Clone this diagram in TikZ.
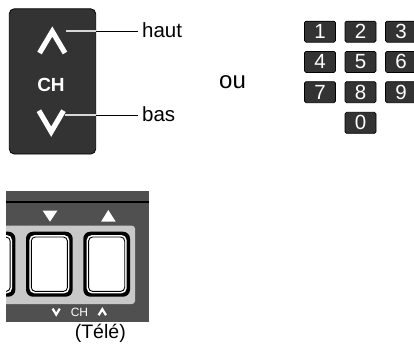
\documentclass[tikz,border=0pt]{standalone}
\usepackage{fontspec}
\setmainfont{Liberation Sans}
\definecolor{paneldark}{HTML}{333333}
\definecolor{tvgray}{HTML}{505050}
\definecolor{stripgray}{HTML}{C8C8C8}
\definecolor{leadlight}{HTML}{D8D8D8}
\begin{document}
\begin{tikzpicture}[x=1pt,y=-1pt,
  lbl/.style={font=\fontsize{20.5}{24}\selectfont, inner sep=0pt, anchor=base west},
  numkey/.style={draw=black, fill=paneldark, rounded corners=1.5pt, minimum width=31pt,
    minimum height=21pt, inner sep=0pt, text=white, font=\fontsize{20.5}{24}\selectfont, line width=0.7pt},
  chev/.style={white, line width=5.2pt, miter limit=10},
  smallchev/.style={white, line width=2.2pt, miter limit=10},
]
\useasboundingbox (0,0) rectangle (414,346);

% remote CH rocker
\node[draw=black, line width=0.8pt, fill=paneldark, rounded corners=5pt,
  minimum width=86.4pt, minimum height=145.3pt, inner sep=0pt] (remote) at (52.5,81.4) {};
\draw[chev] (39.5,53) -- (52.3,31.5) -- (65,53);
\draw[chev] (38.9,110.7) -- (51.2,131.7) -- (63.5,110.7);
\node[font=\bfseries\fontsize{19}{22}\selectfont, text=white, inner sep=0pt] (ch) at (51,84.5) {CH};

% labels and leaders
\node[lbl] (haut) at (142,37.7) {haut};
\node[lbl] (bas) at (142,121.7) {bas};
\coordinate (hs) at (66,31);
\coordinate (bs) at (65,115);
\draw[leadlight, line width=1.4pt] (hs) -- (hs -| remote.east);
\draw[black, line width=1pt] (hs -| remote.east) -- ([xshift=-4pt]hs -| haut.west);
\draw[leadlight, line width=1.4pt] (bs) -- (bs -| remote.east);
\draw[black, line width=1pt] (bs -| remote.east) -- ([xshift=-4pt]bs -| bas.west);

\node[font=\fontsize{24}{28}\selectfont, inner sep=0pt, anchor=base west] (ou) at (219,88) {ou};

% keypad
\node[numkey] (k1) at (320,31.7) {1};
\node[numkey] (k2) at (360.5,31.7) {2};
\node[numkey] (k3) at (401,31.7) {3};
\node[numkey] (k4) at (320,61.9) {4};
\node[numkey] (k5) at (360.5,61.9) {5};
\node[numkey] (k6) at (401,61.9) {6};
\node[numkey] (k7) at (320,92.2) {7};
\node[numkey] (k8) at (360.5,92.2) {8};
\node[numkey] (k9) at (401,92.2) {9};
\node[numkey] (k0) at (360.5,122.8) {0};

% TV panel
\fill[tvgray] (6,191) rectangle (149,322);
\begin{scope}
\clip (6,191) rectangle (149,322);
\draw[black, line width=1.2pt] (6,202) -- (149,202);
\fill[stripgray, rounded corners=3pt] (-10,225.7) rectangle (135,304);
\foreach \bx in {-31.3,26,83.3}{
  \fill[black, rounded corners=7pt] (\bx,231.7) rectangle ++(46.7,65);
  \fill[white, rounded corners=5pt] (\bx+3.4,235.1) rectangle ++(39.9,58.2);
  \draw[black, line width=0.9pt, fill=white, rounded corners=4pt] (\bx+5.3,237) rectangle ++(36.1,54.4);
}
\fill[white] (42.7,210.7) -- (57.3,210.7) -- (50,221.7) -- cycle;
\fill[white] (101,221.7) -- (115.7,221.7) -- (108.3,210) -- cycle;
\draw[smallchev] (52.6,308.6) -- (56.2,314.6) -- (59.8,308.6);
\draw[smallchev] (98.6,315.2) -- (102.3,309.2) -- (106,315.2);
\node[text=white, font=\fontsize{12}{14}\selectfont, inner sep=0pt] (tvch) at (79.5,312) {CH};
\end{scope}
\node[font=\fontsize{19.5}{24}\selectfont, inner sep=0pt, anchor=base] (tele) at (100.3,338.5) {(Télé)};
\end{tikzpicture}
\end{document}
